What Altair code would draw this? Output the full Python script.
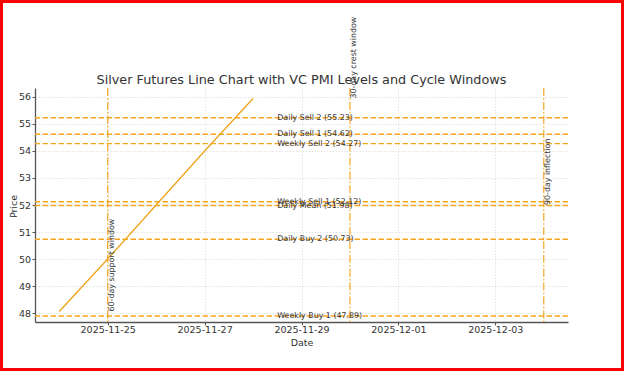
import altair as alt
import pandas as pd

# ---- data ----
dates = ["2025-11-24", "2025-11-25", "2025-11-26", "2025-11-27", "2025-11-28"]
prices = [48.06, 50.00, 52.00, 54.00, 55.94]

level_names = ["Daily Sell 2", "Daily Sell 1", "Weekly Sell 2", "Weekly Sell 1",
               "Daily Mean", "Daily Buy 2", "Weekly Buy 1"]
level_values = [55.23, 54.62, 54.27, 52.12, 51.98, 50.73, 47.89]

cycle_names = ["60-day support window", "30-day crest window", "90-day inflection"]
cycle_dates = ["2025-11-25", "2025-11-30", "2025-12-04"]

x_ticks = [alt.DateTime(year=2025, month=11, date=25, utc=True),
           alt.DateTime(year=2025, month=11, date=27, utc=True),
           alt.DateTime(year=2025, month=11, date=29, utc=True),
           alt.DateTime(year=2025, month=12, date=1, utc=True),
           alt.DateTime(year=2025, month=12, date=3, utc=True)]
y_ticks = [48, 49, 50, 51, 52, 53, 54, 55, 56]

# ---- tables ----
price_df = pd.DataFrame({"Date": dates, "Price": prices})
levels_df = pd.DataFrame({
    "name": level_names,
    "value": level_values,
    "label": [f"{n} ({v:.2f})" for n, v in zip(level_names, level_values)],
})
pmin, pmax, pmean = min(prices), max(prices), sum(prices) / len(prices)
cycle_df = pd.DataFrame({
    "name": cycle_names,
    "Date": cycle_dates,
    "ypos": [pmin, pmax, pmean],
})

FONT = "DejaVu Sans"
LINE_C = "#F0A31C"
LEVEL_C = "#F4A623"
TEXT_C = "#333333"

xscale = alt.Scale(type="utc", domain=[alt.DateTime(year=2025, month=11, date=23, hours=12, utc=True),
                                       alt.DateTime(year=2025, month=12, date=4, hours=12, utc=True)])
yscale = alt.Scale(domain=[47.67, 56.33], nice=False, zero=False)

xaxis = alt.Axis(values=x_ticks, labelExpr="utcFormat(datum.value, '%Y-%m-%d')", title="Date",
                 labelBaseline="alphabetic", labelPadding=7.5, tickSize=3,
                 titleBaseline="alphabetic", titleY=23, labelFlush=False)
yaxis = alt.Axis(values=y_ticks, title="Price", tickSize=3, labelPadding=1.5,
                 titleBaseline="alphabetic", titleX=-19, titleY=118, titleAngle=270,
                 titleAlign="center")

XD = alt.X("Date:T", scale=xscale, axis=xaxis)

price_line = alt.Chart(price_df).mark_line(color=LINE_C, strokeWidth=1.3).encode(
    x=XD,
    y=alt.Y("Price:Q", scale=yscale, axis=yaxis),
)

level_rules = alt.Chart(levels_df).mark_rule(
    color=LEVEL_C, strokeWidth=1.4, strokeDash=[5.5, 2.5]
).encode(y=alt.Y("value:Q", scale=yscale, axis=yaxis))

level_text = alt.Chart(levels_df).mark_text(
    align="left", baseline="middle", font=FONT, fontSize=7.9, color=TEXT_C
).encode(
    x=alt.datum(alt.DateTime(year=2025, month=11, date=28, hours=12, utc=True), type="temporal",
                scale=xscale, axis=xaxis),
    y=alt.Y("value:Q", scale=yscale, axis=yaxis),
    text="label:N",
)

cycle_rules = alt.Chart(cycle_df).mark_rule(
    color=LEVEL_C, strokeWidth=1.2, strokeDash=[8, 2.2, 1.5, 2.2]
).encode(x=XD)

cycle_text = alt.Chart(cycle_df).mark_text(
    align="left", baseline="top", angle=270, font=FONT, fontSize=7.9, color=TEXT_C
).encode(
    x=XD,
    y=alt.Y("ypos:Q", scale=yscale, axis=yaxis),
    text="name:N",
)

frame = alt.Chart(price_df).mark_rect(
    filled=False, stroke="#FF0000", strokeWidth=3, clip=False
).encode(
    x=alt.value(-33.5), x2=alt.value(587.5), y=alt.value(-86.5), y2=alt.value(281.5)
)

chart = alt.layer(
    price_line, level_rules, cycle_rules, level_text, cycle_text, frame
).properties(
    width=533, height=234,
    title=alt.TitleParams(
        "Silver Futures Line Chart with VC PMI Levels and Cycle Windows",
        font=FONT, fontSize=12.8, fontWeight="normal", color=TEXT_C,
        anchor="middle", offset=4, baseline="alphabetic", frame="group", dy=100.5,
    ),
    autosize=alt.AutoSizeParams(type="none"),
    padding={"left": 35, "top": 88, "right": 56, "bottom": 49},
    background="white",
).configure_view(strokeWidth=0).configure_axis(
    labelFont=FONT, titleFont=FONT, labelFontSize=9.5, titleFontSize=9.5,
    labelColor=TEXT_C, titleColor=TEXT_C, titleFontWeight="normal",
    domainColor="#555555", domainWidth=1.3, tickColor="#555555", tickWidth=1,
    gridColor="#dddddd", gridDash=[1.5, 1.5], gridWidth=0.8,
)

chart.save("out.html", embed_options={"renderer": "svg", "actions": False})
